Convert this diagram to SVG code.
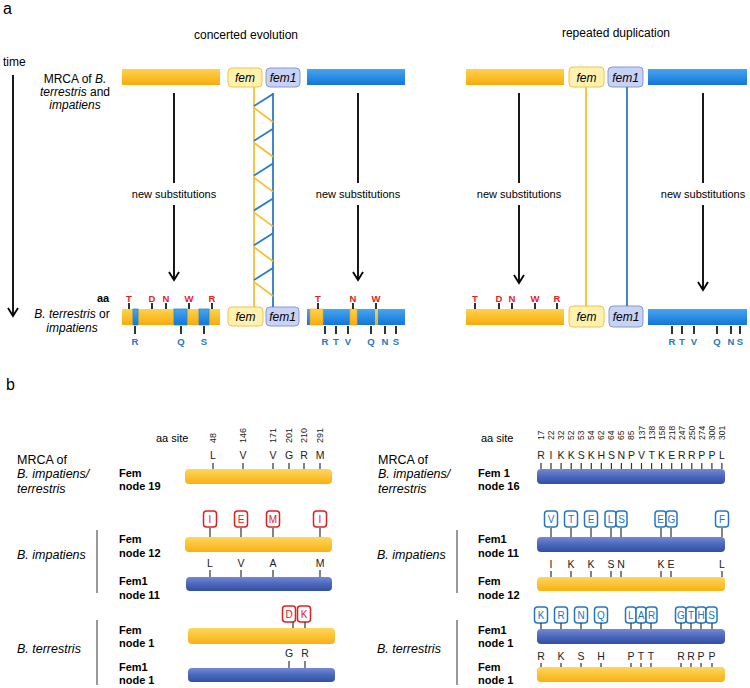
<svg xmlns="http://www.w3.org/2000/svg" width="750" height="688" viewBox="0 0 750 688">
<defs>
<linearGradient id="gOr" x1="0" y1="0" x2="0" y2="1"><stop offset="0" stop-color="#FFD24A"/><stop offset="1" stop-color="#F6AA10"/></linearGradient>
<linearGradient id="gBl" x1="0" y1="0" x2="0" y2="1"><stop offset="0" stop-color="#45A6F2"/><stop offset="1" stop-color="#1475D6"/></linearGradient>
<linearGradient id="gBb" x1="0" y1="0" x2="0" y2="1"><stop offset="0" stop-color="#7289D6"/><stop offset="0.5" stop-color="#4B67BC"/><stop offset="1" stop-color="#33509E"/></linearGradient>
<linearGradient id="gOb" x1="0" y1="0" x2="0" y2="1"><stop offset="0" stop-color="#FFD65A"/><stop offset="1" stop-color="#F8B014"/></linearGradient>
<marker id="ah" viewBox="-10 -6 12 12" refX="0" refY="0" markerWidth="12" markerHeight="12" markerUnits="userSpaceOnUse" orient="auto"><path d="M-8,-5 L0,0 L-8,5" fill="none" stroke="#000" stroke-width="1.8"/></marker>
</defs>
<style>
text{font-family:"Liberation Sans",Arial,sans-serif;fill:#000}
.t11{font-size:11px}.t12{font-size:12px}.it{font-style:italic}.bd{font-weight:bold}
.red{fill:#E8201C;font-size:9.5px;font-weight:bold;text-anchor:middle}
.blu{fill:#2477BF;font-size:9.5px;font-weight:bold;text-anchor:middle}
.tr{stroke:#000;stroke-width:1.6}
.tk{stroke:#333;stroke-width:1.2}
.fembox{fill:#FFF1B0;stroke:#F2C440;stroke-width:1}
.fem1box{fill:#C8D2F4;stroke:#8797D6;stroke-width:1}
.blk{stroke:#000;stroke-width:1.8;fill:none}
.yl{stroke:#F5C033;stroke-width:1.8;fill:none}
.bl{stroke:#2A7CC4;stroke-width:1.8;fill:none}
.lt{font-size:10.5px;text-anchor:middle;fill:#222}
.num{font-size:8.5px;fill:#222}
.rb{fill:#fff;stroke:#E02020;stroke-width:1.5}
.bb{fill:#fff;stroke:#2477BF;stroke-width:1.5}
.rbt{fill:#E02020;font-size:10px;text-anchor:middle}
.bbt{fill:#2477BF;font-size:10px;text-anchor:middle}
.gl{stroke:#555;stroke-width:1.2}
.mid{text-anchor:middle}
</style>

<!-- panel a labels -->
<g id="labels-a">
<text x="3" y="14" style="font-size:16px">a</text>
<text x="246" y="39" class="t12 mid">concerted evolution</text>
<text x="616" y="37" class="t12 mid">repeated duplication</text>
<text x="3" y="66" class="t12">time</text>
<text x="75" y="83" class="t12 mid">MRCA of <tspan class="it">B.</tspan></text>
<text x="75" y="96" class="t12 mid"><tspan class="it">terrestris</tspan> and</text>
<text x="75" y="109" class="t12 mid it">impatiens</text>
<text x="72" y="318" class="t12 mid it">B. terrestris <tspan font-style="normal">or</tspan></text>
<text x="72" y="332" class="t12 mid it">impatiens</text>
<text x="97" y="302" class="t11 bd">aa</text>
<text x="174" y="198" class="t11 mid">new substitutions</text>
<text x="358" y="198" class="t11 mid">new substitutions</text>
<text x="519" y="198" class="t11 mid">new substitutions</text>
<text x="703" y="198" class="t11 mid">new substitutions</text>
</g>

<!-- panel a nodes -->
<g id="ce-mrca-fem-bar"><rect x="122" y="69" width="98" height="16" fill="url(#gOr)"/></g>
<g id="ce-mrca-fem-box"><rect x="228" y="68" width="34" height="19" rx="4" class="fembox"/><text x="245" y="82" class="t12 it mid">fem</text></g>
<g id="ce-mrca-fem1-box"><rect x="266" y="68" width="34" height="19" rx="4" class="fem1box"/><text x="283" y="82" class="t12 it mid">fem1</text></g>
<g id="ce-mrca-fem1-bar"><rect x="307" y="69" width="98" height="16" fill="url(#gBl)"/></g>

<g id="rd-mrca-fem-bar"><rect x="466" y="69" width="98" height="16" fill="url(#gOr)"/></g>
<g id="rd-mrca-fem-box"><rect x="569" y="67" width="35" height="20" rx="4" class="fembox"/><text x="586.5" y="82" class="t12 it mid">fem</text></g>
<g id="rd-mrca-fem1-box"><rect x="608" y="67" width="35" height="20" rx="4" class="fem1box"/><text x="625.5" y="82" class="t12 it mid">fem1</text></g>
<g id="rd-mrca-fem1-bar"><rect x="648" y="69" width="99" height="16" fill="url(#gBl)"/></g>

<g id="ce-fem-bar">
<rect x="122" y="309" width="98" height="16" fill="url(#gOr)"/>
<rect x="133" y="309" width="5" height="16" fill="url(#gBl)" stroke="#2A8AC0" stroke-width="0.8"/>
<rect x="174" y="309" width="13" height="16" fill="url(#gBl)" stroke="#2A8AC0" stroke-width="0.8"/>
<rect x="199" y="309" width="10" height="16" fill="url(#gBl)" stroke="#2A8AC0" stroke-width="0.8"/>
<path class="tr" d="M129,303V309M152,303V309M166,303V309M189,303V309M212,303V309M135,326V334M181,326V334M204,326V334"/>
<text x="129" y="302" class="red">T</text><text x="152" y="302" class="red">D</text><text x="166" y="302" class="red">N</text><text x="189" y="302" class="red">W</text><text x="212" y="302" class="red">R</text>
<text x="135" y="345" class="blu">R</text><text x="181" y="345" class="blu">Q</text><text x="204" y="345" class="blu">S</text>
</g>
<g id="ce-fem-box"><rect x="228" y="307" width="35" height="19" rx="4" class="fembox"/><text x="245.5" y="321" class="t12 it mid">fem</text></g>
<g id="ce-fem1-box"><rect x="266" y="307" width="33" height="19" rx="4" class="fem1box"/><text x="282.5" y="321" class="t12 it mid">fem1</text></g>
<g id="ce-fem1-bar">
<rect x="307" y="309" width="98" height="16" fill="url(#gBl)"/>
<rect x="310" y="309" width="13" height="16" fill="url(#gOr)" stroke="#E8A820" stroke-width="0.6"/>
<rect x="350" y="309" width="7" height="16" fill="url(#gOr)" stroke="#E8A820" stroke-width="0.6"/>
<rect x="375" y="309" width="3" height="16" fill="url(#gOr)"/>
<path class="tr" d="M318,303V309M353,303V309M376,303V309M325,326V334M336,326V334M348,326V334M371,326V334M385,326V334M396,326V334"/>
<text x="318" y="302" class="red">T</text><text x="353" y="302" class="red">N</text><text x="376" y="302" class="red">W</text>
<text x="325" y="345" class="blu">R</text><text x="336" y="345" class="blu">T</text><text x="348" y="345" class="blu">V</text><text x="371" y="345" class="blu">Q</text><text x="385" y="345" class="blu">N</text><text x="396" y="345" class="blu">S</text>
</g>

<g id="rd-fem-bar">
<rect x="466" y="309" width="98" height="16" fill="url(#gOr)"/>
<path class="tr" d="M475,303V309M499,303V309M512,303V309M535,303V309M557,303V309"/>
<text x="475" y="302" class="red">T</text><text x="499" y="302" class="red">D</text><text x="512" y="302" class="red">N</text><text x="535" y="302" class="red">W</text><text x="557" y="302" class="red">R</text>
</g>
<g id="rd-fem-box"><rect x="569" y="306" width="35" height="21" rx="4" class="fembox"/><text x="586.5" y="321" class="t12 it mid">fem</text></g>
<g id="rd-fem1-box"><rect x="609" y="306" width="34" height="21" rx="4" class="fem1box"/><text x="626" y="321" class="t12 it mid">fem1</text></g>
<g id="rd-fem1-bar">
<rect x="648" y="309" width="99" height="16" fill="url(#gBl)"/>
<path class="tr" d="M672,326V334M682,326V334M694,326V334M717,326V334M731,326V334M740,326V334"/>
<text x="672" y="345" class="blu">R</text><text x="682" y="345" class="blu">T</text><text x="694" y="345" class="blu">V</text><text x="717" y="345" class="blu">Q</text><text x="731" y="345" class="blu">N</text><text x="740" y="345" class="blu">S</text>
</g>

<!-- panel a connectors -->
<g id="connectors-a">
<path class="blk" d="M13,75V316" marker-end="url(#ah)"/>
<path class="blk" d="M174,93V183M174,205V280" marker-end="url(#ah)"/>
<path class="blk" d="M358,93V183M358,205V280" marker-end="url(#ah)"/>
<path class="blk" d="M519,93V183M519,205V283" marker-end="url(#ah)"/>
<path class="blk" d="M703,93V183M703,205V290" marker-end="url(#ah)"/>
<path class="yl" d="M254,87V307"/>
<path class="bl" d="M273,93V307"/>
<path class="bl" d="M273,94L254,106M273,128.8L254,140.8M273,163.6L254,175.6M273,198.4L254,210.4M273,233.2L254,245.2M273,268L254,280"/>
<path class="yl" d="M254,108L273,122M254,142.8L273,156.8M254,177.6L273,191.6M254,212.4L273,226.4M254,247.2L273,261.2M254,282L273,296"/>
<path class="yl" d="M586,87V306"/>
<path class="bl" d="M627,87V306"/>
</g>

<!-- panel b labels -->
<g id="labels-b">
<text x="6" y="390" style="font-size:16px">b</text>
<text x="17" y="464" style="font-size:12.5px">MRCA of</text>
<text x="17" y="478" style="font-size:12.5px" class="it">B. impatiens/</text>
<text x="17" y="493" style="font-size:12.5px" class="it">terrestris</text>
<text x="17" y="559" style="font-size:12.5px" class="it">B. impatiens</text>
<text x="17" y="653" style="font-size:12.5px" class="it">B. terrestris</text>
<text x="156" y="442" class="t11">aa site</text>
<text x="378" y="464" style="font-size:12.5px">MRCA of</text>
<text x="378" y="478" style="font-size:12.5px" class="it">B. impatiens/</text>
<text x="378" y="493" style="font-size:12.5px" class="it">terrestris</text>
<text x="377" y="559" style="font-size:12.5px" class="it">B. impatiens</text>
<text x="377" y="653" style="font-size:12.5px" class="it">B. terrestris</text>
<text x="481" y="442" class="t11">aa site</text>
<path class="gl" d="M97,530V593M97,620V685M457,530V593M457,620V685"/>
</g>

<!-- left aa sites -->
<g id="left-sites">
<text transform="translate(216.2,443) rotate(-90)" class="num" style="font-size:9px">48</text>
<text transform="translate(246.2,443) rotate(-90)" class="num" style="font-size:9px">146</text>
<text transform="translate(276.2,443) rotate(-90)" class="num" style="font-size:9px">171</text>
<text transform="translate(292.2,443) rotate(-90)" class="num" style="font-size:9px">201</text>
<text transform="translate(307.2,443) rotate(-90)" class="num" style="font-size:9px">210</text>
<text transform="translate(323.2,443) rotate(-90)" class="num" style="font-size:9px">291</text>
</g>

<g id="fem-node19">
<text x="119" y="477" class="t11 bd">Fem</text><text x="119" y="490" class="t11 bd">node 19</text>
<text x="213" y="459" class="lt">L</text><text x="243" y="459" class="lt">V</text><text x="273" y="459" class="lt">V</text><text x="289" y="459" class="lt">G</text><text x="304" y="459" class="lt">R</text><text x="320" y="459" class="lt">M</text>
<path class="tk" d="M213,463V469M243,463V469M273,463V469M289,463V469M304,463V469M320,463V469"/>
<rect x="185" y="469" width="147" height="15" rx="4" fill="url(#gOb)"/>
</g>

<g id="fem-node12">
<text x="119" y="543" class="t11 bd">Fem</text><text x="119" y="557" class="t11 bd">node 12</text>
<rect x="203.5" y="511" width="13" height="16" rx="3" class="rb"/><text x="210" y="523" class="rbt">I</text>
<rect x="234.5" y="511" width="13" height="16" rx="3" class="rb"/><text x="241" y="523" class="rbt">E</text>
<rect x="266.5" y="511" width="13" height="16" rx="3" class="rb"/><text x="273" y="523" class="rbt">M</text>
<rect x="313.5" y="511" width="13" height="16" rx="3" class="rb"/><text x="320" y="523" class="rbt">I</text>
<path class="tk" d="M210,528V537M241,528V537M273,528V537M320,528V537"/>
<rect x="185" y="537" width="147" height="15" rx="4" fill="url(#gOb)"/>
</g>

<g id="fem1-node11-left">
<text x="119" y="585" class="t11 bd">Fem1</text><text x="119" y="599" class="t11 bd">node 11</text>
<text x="210" y="567" class="lt">L</text><text x="241" y="567" class="lt">V</text><text x="273" y="567" class="lt">A</text><text x="320" y="567" class="lt">M</text>
<path class="tk" d="M210,570V577M241,570V577M273,570V577M320,570V577"/>
<rect x="186" y="577" width="146" height="14" rx="4" fill="url(#gBb)"/>
</g>

<g id="fem-node1">
<text x="119" y="634" class="t11 bd">Fem</text><text x="119" y="647" class="t11 bd">node 1</text>
<rect x="282.5" y="606" width="13" height="16" rx="3" class="rb"/><text x="289" y="618" class="rbt">D</text>
<rect x="297.5" y="606" width="13" height="16" rx="3" class="rb"/><text x="304" y="618" class="rbt">K</text>
<path class="tk" d="M293,622V628M305,622V628"/>
<rect x="188" y="628" width="147" height="16" rx="4" fill="url(#gOb)"/>
</g>

<g id="fem1-node1-left">
<text x="119" y="671" class="t11 bd">Fem1</text><text x="119" y="684" class="t11 bd">node 1</text>
<text x="289" y="657" class="lt">G</text><text x="305" y="657" class="lt">R</text>
<path class="tk" d="M289,661V668M305,661V668"/>
<rect x="188" y="668" width="147" height="14" rx="4" fill="url(#gBb)"/>
</g>

<!-- right aa sites: x = 541 + 10.05 i -->
<g id="right-sites">
<text transform="translate(544,440) rotate(-90)" class="num">17</text>
<text transform="translate(554.05,440) rotate(-90)" class="num">22</text>
<text transform="translate(564.1,440) rotate(-90)" class="num">32</text>
<text transform="translate(574.15,440) rotate(-90)" class="num">52</text>
<text transform="translate(584.2,440) rotate(-90)" class="num">53</text>
<text transform="translate(594.25,440) rotate(-90)" class="num">54</text>
<text transform="translate(604.3,440) rotate(-90)" class="num">62</text>
<text transform="translate(614.35,440) rotate(-90)" class="num">64</text>
<text transform="translate(624.4,440) rotate(-90)" class="num">65</text>
<text transform="translate(634.45,440) rotate(-90)" class="num">85</text>
<text transform="translate(644.5,440) rotate(-90)" class="num">137</text>
<text transform="translate(654.55,440) rotate(-90)" class="num">138</text>
<text transform="translate(664.6,440) rotate(-90)" class="num">158</text>
<text transform="translate(674.65,440) rotate(-90)" class="num">218</text>
<text transform="translate(684.7,440) rotate(-90)" class="num">247</text>
<text transform="translate(694.75,440) rotate(-90)" class="num">250</text>
<text transform="translate(704.8,440) rotate(-90)" class="num">274</text>
<text transform="translate(714.85,440) rotate(-90)" class="num">300</text>
<text transform="translate(724.9,440) rotate(-90)" class="num">301</text>
</g>

<g id="fem1-node16">
<text x="478" y="477" class="t11 bd">Fem 1</text><text x="478" y="490" class="t11 bd">node 16</text>
<text x="541" y="459" class="lt">R</text><text x="551" y="459" class="lt">I</text><text x="561.1" y="459" class="lt">K</text><text x="571.2" y="459" class="lt">K</text><text x="581.2" y="459" class="lt">S</text><text x="591.3" y="459" class="lt">K</text><text x="601.3" y="459" class="lt">H</text><text x="611.4" y="459" class="lt">S</text><text x="621.4" y="459" class="lt">N</text><text x="631.5" y="459" class="lt">P</text><text x="641.5" y="459" class="lt">V</text><text x="651.6" y="459" class="lt">T</text><text x="661.6" y="459" class="lt">K</text><text x="671.7" y="459" class="lt">E</text><text x="681.7" y="459" class="lt">R</text><text x="691.8" y="459" class="lt">R</text><text x="701.8" y="459" class="lt">P</text><text x="711.9" y="459" class="lt">P</text><text x="721.9" y="459" class="lt">L</text>
<path class="tk" d="M541,463V469M551,463V469M561.1,463V469M571.2,463V469M581.2,463V469M591.3,463V469M601.3,463V469M611.4,463V469M621.4,463V469M631.5,463V469M641.5,463V469M651.6,463V469M661.6,463V469M671.7,463V469M681.7,463V469M691.8,463V469M701.8,463V469M711.9,463V469M721.9,463V469"/>
<rect x="537" y="469" width="188" height="15" rx="4" fill="url(#gBb)"/>
</g>

<g id="fem1-node11-right">
<text x="478" y="543" class="t11 bd">Fem1</text><text x="478" y="557" class="t11 bd">node 11</text>
<rect x="544.5" y="511" width="13" height="16" rx="3" class="bb"/><text x="551" y="523" class="bbt">V</text>
<rect x="564.5" y="511" width="13" height="16" rx="3" class="bb"/><text x="571" y="523" class="bbt">T</text>
<rect x="584.5" y="511" width="13" height="16" rx="3" class="bb"/><text x="591" y="523" class="bbt">E</text>
<rect x="605" y="511" width="11" height="16" rx="3" class="bb"/><text x="610.5" y="523" class="bbt">L</text>
<rect x="616" y="511" width="11" height="16" rx="3" class="bb"/><text x="621.5" y="523" class="bbt">S</text>
<rect x="655" y="511" width="11" height="16" rx="3" class="bb"/><text x="660.5" y="523" class="bbt">E</text>
<rect x="666" y="511" width="11" height="16" rx="3" class="bb"/><text x="671.5" y="523" class="bbt">G</text>
<rect x="715.5" y="511" width="13" height="16" rx="3" class="bb"/><text x="722" y="523" class="bbt">F</text>
<path class="tk" d="M551,528V537M571,528V537M591,528V537M611,528V537M621,528V537M661,528V537M671,528V537M722,528V537"/>
<rect x="537" y="537" width="188" height="15" rx="4" fill="url(#gBb)"/>
</g>

<g id="fem-node12-right">
<text x="478" y="585" class="t11 bd">Fem</text><text x="478" y="599" class="t11 bd">node 12</text>
<text x="551" y="568" class="lt">I</text><text x="571" y="568" class="lt">K</text><text x="591" y="568" class="lt">K</text><text x="611" y="568" class="lt">S</text><text x="621" y="568" class="lt">N</text><text x="661" y="568" class="lt">K</text><text x="671" y="568" class="lt">E</text><text x="722" y="568" class="lt">L</text>
<path class="tk" d="M551,571V577M571,571V577M591,571V577M611,571V577M621,571V577M661,571V577M671,571V577M722,571V577"/>
<rect x="537" y="577" width="188" height="14" rx="4" fill="url(#gOb)"/>
</g>

<g id="fem1-node1-right">
<text x="478" y="634" class="t11 bd">Fem1</text><text x="478" y="647" class="t11 bd">node 1</text>
<rect x="534.5" y="607" width="13" height="16" rx="3" class="bb"/><text x="541" y="619" class="bbt">K</text>
<rect x="554.5" y="607" width="13" height="16" rx="3" class="bb"/><text x="561" y="619" class="bbt">R</text>
<rect x="574.5" y="607" width="13" height="16" rx="3" class="bb"/><text x="581" y="619" class="bbt">N</text>
<rect x="594.5" y="607" width="13" height="16" rx="3" class="bb"/><text x="601" y="619" class="bbt">Q</text>
<rect x="625.5" y="607" width="10.5" height="16" rx="3" class="bb"/><text x="630.8" y="619" class="bbt">L</text>
<rect x="636" y="607" width="10" height="16" rx="3" class="bb"/><text x="641" y="619" class="bbt">A</text>
<rect x="646" y="607" width="11" height="16" rx="3" class="bb"/><text x="651.5" y="619" class="bbt">R</text>
<rect x="675.5" y="607" width="10.5" height="16" rx="3" class="bb"/><text x="680.8" y="619" class="bbt">G</text>
<rect x="686" y="607" width="10" height="16" rx="3" class="bb"/><text x="691" y="619" class="bbt">T</text>
<rect x="696" y="607" width="10" height="16" rx="3" class="bb"/><text x="701" y="619" class="bbt">H</text>
<rect x="706" y="607" width="11" height="16" rx="3" class="bb"/><text x="711.5" y="619" class="bbt">S</text>
<path class="tk" d="M541,623V629M561,623V629M581,623V629M601,623V629M631,623V629M641,623V629M651,623V629M681,623V629M691,623V629M701,623V629M712,623V629"/>
<rect x="537" y="629" width="188" height="15" rx="4" fill="url(#gBb)"/>
</g>

<g id="fem-node1-right">
<text x="478" y="671" class="t11 bd">Fem</text><text x="478" y="684" class="t11 bd">node 1</text>
<text x="541" y="660" class="lt">R</text><text x="561" y="660" class="lt">K</text><text x="581" y="660" class="lt">S</text><text x="601" y="660" class="lt">H</text><text x="631" y="660" class="lt">P</text><text x="641" y="660" class="lt">T</text><text x="651" y="660" class="lt">T</text><text x="681" y="660" class="lt">R</text><text x="691" y="660" class="lt">R</text><text x="701" y="660" class="lt">P</text><text x="712" y="660" class="lt">P</text>
<path class="tk" d="M541,663V667M561,663V667M581,663V667M601,663V667M631,663V667M641,663V667M651,663V667M681,663V667M691,663V667M701,663V667M712,663V667"/>
<rect x="537" y="667" width="188" height="15" rx="4" fill="url(#gOb)"/>
</g>
</svg>
